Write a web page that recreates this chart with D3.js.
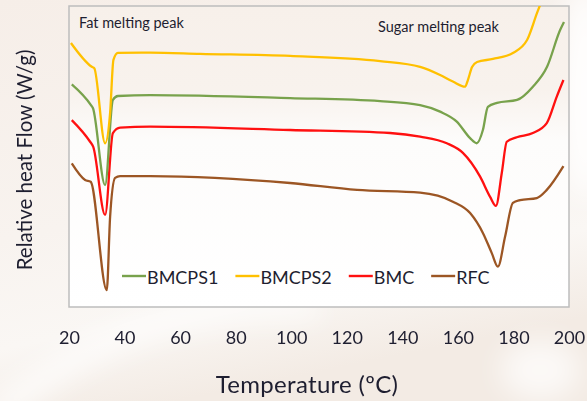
<!DOCTYPE html>
<html>
<head>
<meta charset="utf-8">
<script src="https://cdn.jsdelivr.net/npm/d3@7"></script>
<style>
  body { margin: 0; background: #f5ede7; }
  svg { display: block; font-family: Lato, "Open Sans", sans-serif; }
</style>
</head>
<body>
<div id="chart"></div>
<script>
// temperature (C) and relative heat flow
var bmcps1_t = [21.0, 27.9, 28.6, 33.0, 35.8, 37.6, 49.2, 99.6, 132.0, 146.4, 153.6, 159.6, 164.4, 166.8, 169.0, 170.8, 174.1, 181.3, 187.0, 192.1, 196.8, 198.2];
var bmcps1_v = [7.40, 6.71, 6.61, 4.05, 6.88, 7.01, 7.04, 6.94, 6.84, 6.71, 6.49, 6.16, 5.61, 5.44, 5.88, 6.65, 6.78, 6.88, 7.32, 7.98, 9.20, 9.47];

var bmcps2_t = [20.7, 28.2, 29.1, 33.0, 34.8, 36.0, 37.6, 49.2, 67.2, 99.6, 132.0, 146.4, 153.6, 158.2, 162.6, 163.6, 165.1, 166.9, 172.6, 179.8, 184.9, 188.5, 191.4];
var bmcps2_v = [8.77, 7.98, 7.93, 5.44, 6.45, 8.21, 8.44, 8.45, 8.41, 8.34, 8.17, 7.98, 7.71, 7.49, 7.32, 7.54, 7.97, 8.14, 8.24, 8.44, 8.87, 9.77, 10.47];

var bmc_t = [21.0, 27.6, 28.7, 33.0, 35.8, 38.4, 49.2, 99.6, 135.6, 146.4, 156.0, 161.8, 168.0, 171.6, 173.7, 175.8, 177.6, 181.2, 187.0, 192.0, 195.6, 198.0];
var bmc_v = [6.21, 5.49, 5.33, 3.06, 5.78, 5.96, 5.99, 5.88, 5.78, 5.66, 5.44, 5.12, 4.33, 3.66, 3.36, 4.45, 5.49, 5.64, 5.78, 6.11, 6.99, 7.54];

var rfc_t = [21.0, 25.8, 27.8, 33.6, 34.8, 36.6, 38.4, 49.2, 99.6, 123.7, 146.4, 158.2, 164.4, 169.0, 172.2, 174.4, 177.0, 179.8, 182.4, 188.4, 192.0, 198.0];
var rfc_v = [4.77, 4.22, 4.16, 0.56, 3.00, 4.29, 4.35, 4.35, 4.12, 3.89, 3.80, 3.50, 3.12, 2.46, 1.79, 1.34, 2.34, 3.46, 3.55, 3.62, 3.89, 4.68];

var series_names = ["BMCPS1", "BMCPS2", "BMC", "RFC"];
var series_colors = ["#78a24c", "#ffc000", "#ff1010", "#9c5624"];
var x_ticks = [20, 40, 60, 80, 100, 120, 140, 160, 180, 200];

var width = 587, height = 401;
var plot_left = 69, plot_right = 569, plot_top = 6, plot_bottom = 307;
var ink = "#1e1e30";

var svg = d3.select("#chart").append("svg").attr("width", width).attr("height", height);
var defs = svg.append("defs");

// washed out backdrop
var bg = defs.append("linearGradient").attr("id", "bg").attr("x1", 0).attr("y1", 0).attr("x2", 0.3).attr("y2", 1);
bg.append("stop").attr("offset", "0%").attr("stop-color", "#f6eee8");
bg.append("stop").attr("offset", "55%").attr("stop-color", "#f8f3ef");
bg.append("stop").attr("offset", "80%").attr("stop-color", "#faf7f4");
bg.append("stop").attr("offset", "100%").attr("stop-color", "#f3ebe4");
svg.append("rect").attr("width", width).attr("height", height).attr("fill", "url(#bg)");

defs.append("filter").attr("id", "soft").attr("x", "-50%").attr("y", "-50%").attr("width", "200%").attr("height", "200%")
    .append("feGaussianBlur").attr("stdDeviation", 14);
var haze = svg.append("g").attr("filter", "url(#soft)").attr("fill", "#ffffff");
haze.append("ellipse").attr("cx", 585).attr("cy", 90).attr("rx", 25).attr("ry", 110).attr("opacity", 0.9);
haze.append("ellipse").attr("cx", 540).attr("cy", 370).attr("rx", 40).attr("ry", 30).attr("opacity", 0.7);
haze.append("path").attr("d", "M-20,410 C80,330 180,290 320,300 L320,318 C190,312 90,350 10,420 Z").attr("opacity", 0.8);

var pg = defs.append("linearGradient").attr("id", "pg").attr("x1", 0).attr("y1", 0).attr("x2", 0).attr("y2", 1);
pg.append("stop").attr("offset", "0%").attr("stop-color", "#f7f0ea");
pg.append("stop").attr("offset", "28%").attr("stop-color", "#f8f2ed");
pg.append("stop").attr("offset", "45%").attr("stop-color", "#fdfcfb");
pg.append("stop").attr("offset", "100%").attr("stop-color", "#ffffff");

defs.append("clipPath").attr("id", "clip").append("rect")
    .attr("x", plot_left).attr("y", plot_top)
    .attr("width", plot_right - plot_left).attr("height", plot_bottom - plot_top);

var x = d3.scaleLinear().domain([20, 200]).range([plot_left, plot_right]);
var y = d3.scaleLinear().domain([0, 10]).range([plot_bottom, plot_bottom - 301]);

svg.append("rect")
    .attr("x", plot_left).attr("y", plot_top)
    .attr("width", plot_right - plot_left).attr("height", plot_bottom - plot_top)
    .attr("fill", "url(#pg)").attr("stroke", "#bdbdbd").attr("stroke-width", 1.5);

var series = [
  {t: bmcps1_t, v: bmcps1_v},
  {t: bmcps2_t, v: bmcps2_v},
  {t: bmc_t, v: bmc_v},
  {t: rfc_t, v: rfc_v}
];

var line = d3.line()
    .x(function(d){ return x(d[0]); })
    .y(function(d){ return y(d[1]); })
    .curve(d3.curveMonotoneX);

var lines = svg.append("g").attr("clip-path", "url(#clip)");
// RFC at the back, BMCPS2 in front
[3, 2, 0, 1].forEach(function(i){
  var pts = series[i].t.map(function(t, j){ return [t, series[i].v[j]]; });
  lines.append("path")
      .attr("d", line(pts))
      .attr("fill", "none")
      .attr("stroke", series_colors[i])
      .attr("stroke-width", 2.3)
      .attr("stroke-linejoin", "round");
});

// x axis labels only
var xAxis = svg.append("g")
    .attr("transform", "translate(0," + plot_bottom + ")")
    .call(d3.axisBottom(x).tickValues(x_ticks).tickSize(0).tickFormat(d3.format("d")));
xAxis.select(".domain").remove();
xAxis.selectAll("text")
    .attr("y", 37).attr("dy", 0)
    .attr("fill", ink)
    .style("font-size", "18px")
    .style("font-family", "Lato, sans-serif");

svg.append("text")
    .attr("x", 307).attr("y", 393)
    .attr("text-anchor", "middle")
    .attr("fill", ink)
    .style("font-size", "24px")
    .style("letter-spacing", "0.3px")
    .text("Temperature (ºC)");

svg.append("text")
    .attr("transform", "translate(32,160) rotate(-90)")
    .attr("text-anchor", "middle")
    .attr("fill", ink)
    .style("font-size", "20.5px")
    .text("Relative heat Flow (W/g)");

svg.append("text")
    .attr("x", 79).attr("y", 28)
    .attr("fill", ink)
    .style("font-size", "14.5px")
    .text("Fat melting peak");

svg.append("text")
    .attr("x", 378).attr("y", 32)
    .attr("fill", ink)
    .style("font-size", "14.5px")
    .text("Sugar melting peak");

// legend
var lx = 122;
var legend = svg.append("g");
series_names.forEach(function(name, i){
  legend.append("line")
      .attr("x1", lx).attr("x2", lx + 24)
      .attr("y1", 276).attr("y2", 276)
      .attr("stroke", series_colors[i]).attr("stroke-width", 2.4);
  var txt = legend.append("text")
      .attr("x", lx + 25).attr("y", 284)
      .attr("fill", ink)
      .style("font-size", "18px")
      .text(name);
  lx = lx + 25 + txt.node().getComputedTextLength() + 17;
});
</script>
</body>
</html>
